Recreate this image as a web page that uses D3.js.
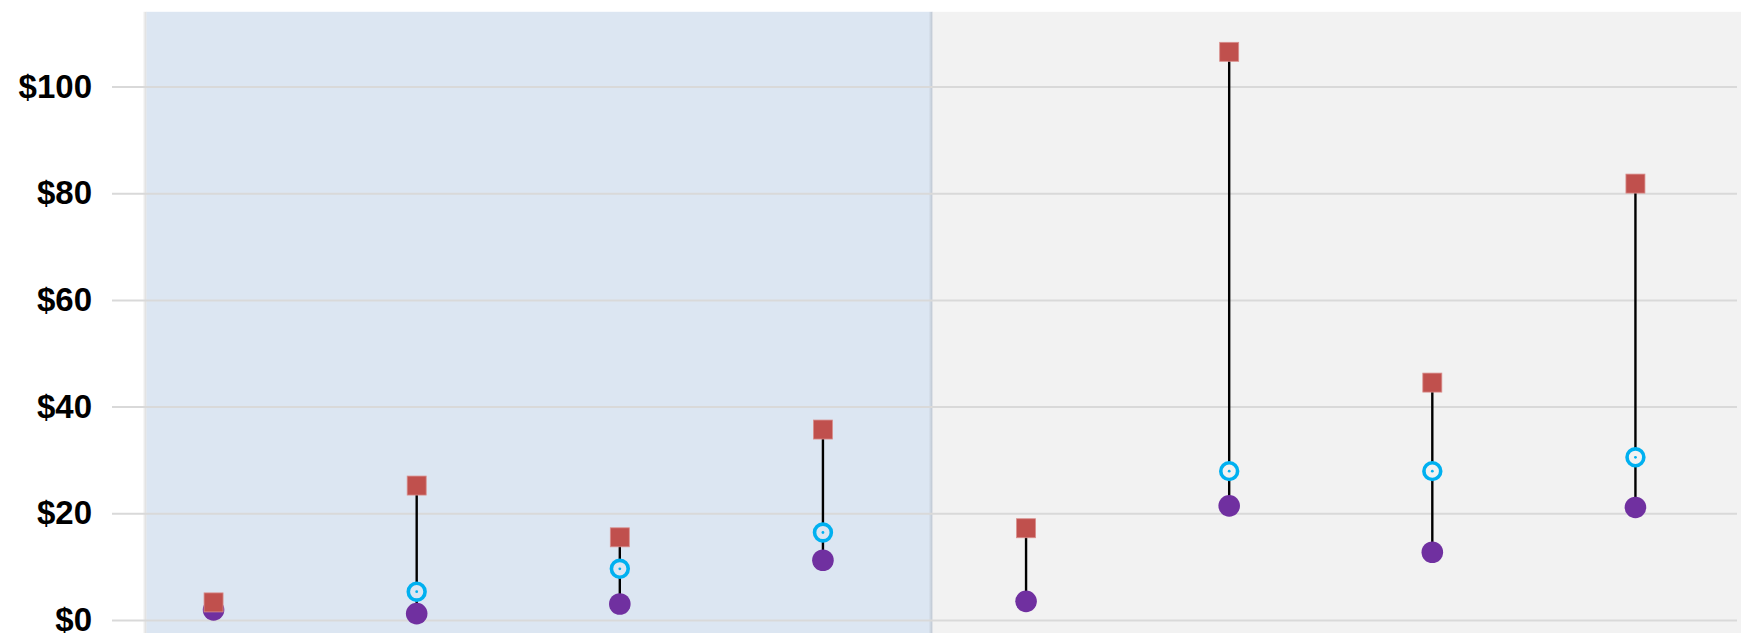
<!DOCTYPE html>
<html>
<head>
<meta charset="utf-8">
<script src="https://cdn.jsdelivr.net/npm/d3@7"></script>
<style>
  body { margin: 0; background: #fff; }
  svg { display: block; }
  .tick text { font-family: "Liberation Sans", Arial, sans-serif; font-weight: bold; }
</style>
</head>
<body>
<svg></svg>
<script>
// Data for the chart (8 groups, no category labels shown)
const categories = ["1", "2", "3", "4", "5", "6", "7", "8"];
const highValues = [3.3, 25.2, 15.5, 35.7, 17.2, 106.5, 44.5, 81.8];   // red squares
const midValues  = [null, 5.3, 9.6, 16.4, null, 27.9, 27.9, 30.5];    // blue rings
const lowValues  = [1.9, 1.2, 3.0, 11.2, 3.5, 21.4, 12.7, 21.1];      // purple dots
const yTicks = [0, 20, 40, 60, 80, 100];

// shaded zones, in category-index units
const zones = [
    {from: -0.33, to: 3.54, color: "#DCE6F2"},
    {from: 3.54, to: 7.53, color: "#F2F2F2"}
];

const width = 1741, height = 633;
const plotLeft = 112, plotRight = 1737;

const svg = d3.select("svg")
    .attr("width", width)
    .attr("height", height);

const defs = svg.append("defs");
const grad = defs.append("linearGradient").attr("id", "shadow")
    .attr("x1", "0").attr("x2", "1").attr("y1", "0").attr("y2", "0");
grad.append("stop").attr("offset", "0%").attr("stop-color", "#000").attr("stop-opacity", 0);
grad.append("stop").attr("offset", "100%").attr("stop-color", "#000").attr("stop-opacity", 0.15);

// Scales
const x = d3.scalePoint()
    .domain(categories)
    .range([plotLeft, plotRight])
    .padding(0.5);

const xi = d3.scaleLinear()
    .domain([-0.5, categories.length - 0.5])
    .range([plotLeft, plotRight]);

const y = d3.scaleLinear()
    .domain([0, 100])
    .range([620, 86.5]);

// Background zones
zones.forEach(z => {
    svg.append("rect")
        .attr("x", xi(z.from) - 4)
        .attr("y", y(114))
        .attr("width", 4)
        .attr("height", height)
        .attr("fill", "url(#shadow)");
    svg.append("rect")
        .attr("x", xi(z.from))
        .attr("y", y(114))
        .attr("width", xi(z.to) - xi(z.from))
        .attr("height", height)
        .attr("fill", z.color);
});

// Gridlines + Y axis
const yAxis = svg.append("g")
    .attr("transform", `translate(${plotLeft},0)`)
    .call(d3.axisLeft(y)
        .tickValues(yTicks)
        .tickSize(-(plotRight - plotLeft))
        .tickPadding(20)
        .tickFormat(d => "$" + d));
yAxis.select(".domain").remove();
yAxis.selectAll(".tick line")
    .attr("stroke", "#D9D9D9")
    .attr("stroke-width", 2);
yAxis.selectAll(".tick text")
    .attr("fill", "#000")
    .style("font-size", "33px");

function zoneColor(i) {
    const z = zones.find(z => i >= z.from && i < z.to);
    return z ? z.color : "#fff";
}

// Range lines
categories.forEach((c, i) => {
    const vals = [highValues[i], midValues[i], lowValues[i]].filter(v => v != null);
    svg.append("line")
        .attr("x1", x(c))
        .attr("x2", x(c))
        .attr("y1", y(d3.max(vals)))
        .attr("y2", y(d3.min(vals)))
        .attr("stroke", "#000")
        .attr("stroke-width", 2.4);
});

// Purple dots
categories.forEach((c, i) => {
    svg.append("circle")
        .attr("cx", x(c))
        .attr("cy", y(lowValues[i]))
        .attr("r", 10.8)
        .attr("fill", "#7030A0");
});

// Blue rings
categories.forEach((c, i) => {
    if (midValues[i] == null) return;
    svg.append("circle")
        .attr("cx", x(c))
        .attr("cy", y(midValues[i]))
        .attr("r", 8.4)
        .attr("fill", zoneColor(i))
        .attr("stroke", "#00B0F0")
        .attr("stroke-width", 3.6);
    svg.append("circle")
        .attr("cx", x(c))
        .attr("cy", y(midValues[i]))
        .attr("r", 1.4)
        .attr("fill", "#00B0F0");
});

// Red squares
categories.forEach((c, i) => {
    svg.append("rect")
        .attr("x", x(c) - 9.5)
        .attr("y", y(highValues[i]) - 9.5)
        .attr("width", 19)
        .attr("height", 19)
        .attr("fill", "#C0504D")
        .attr("stroke", "#D98E8C")
        .attr("stroke-width", 0.8);
});
</script>
</body>
</html>
